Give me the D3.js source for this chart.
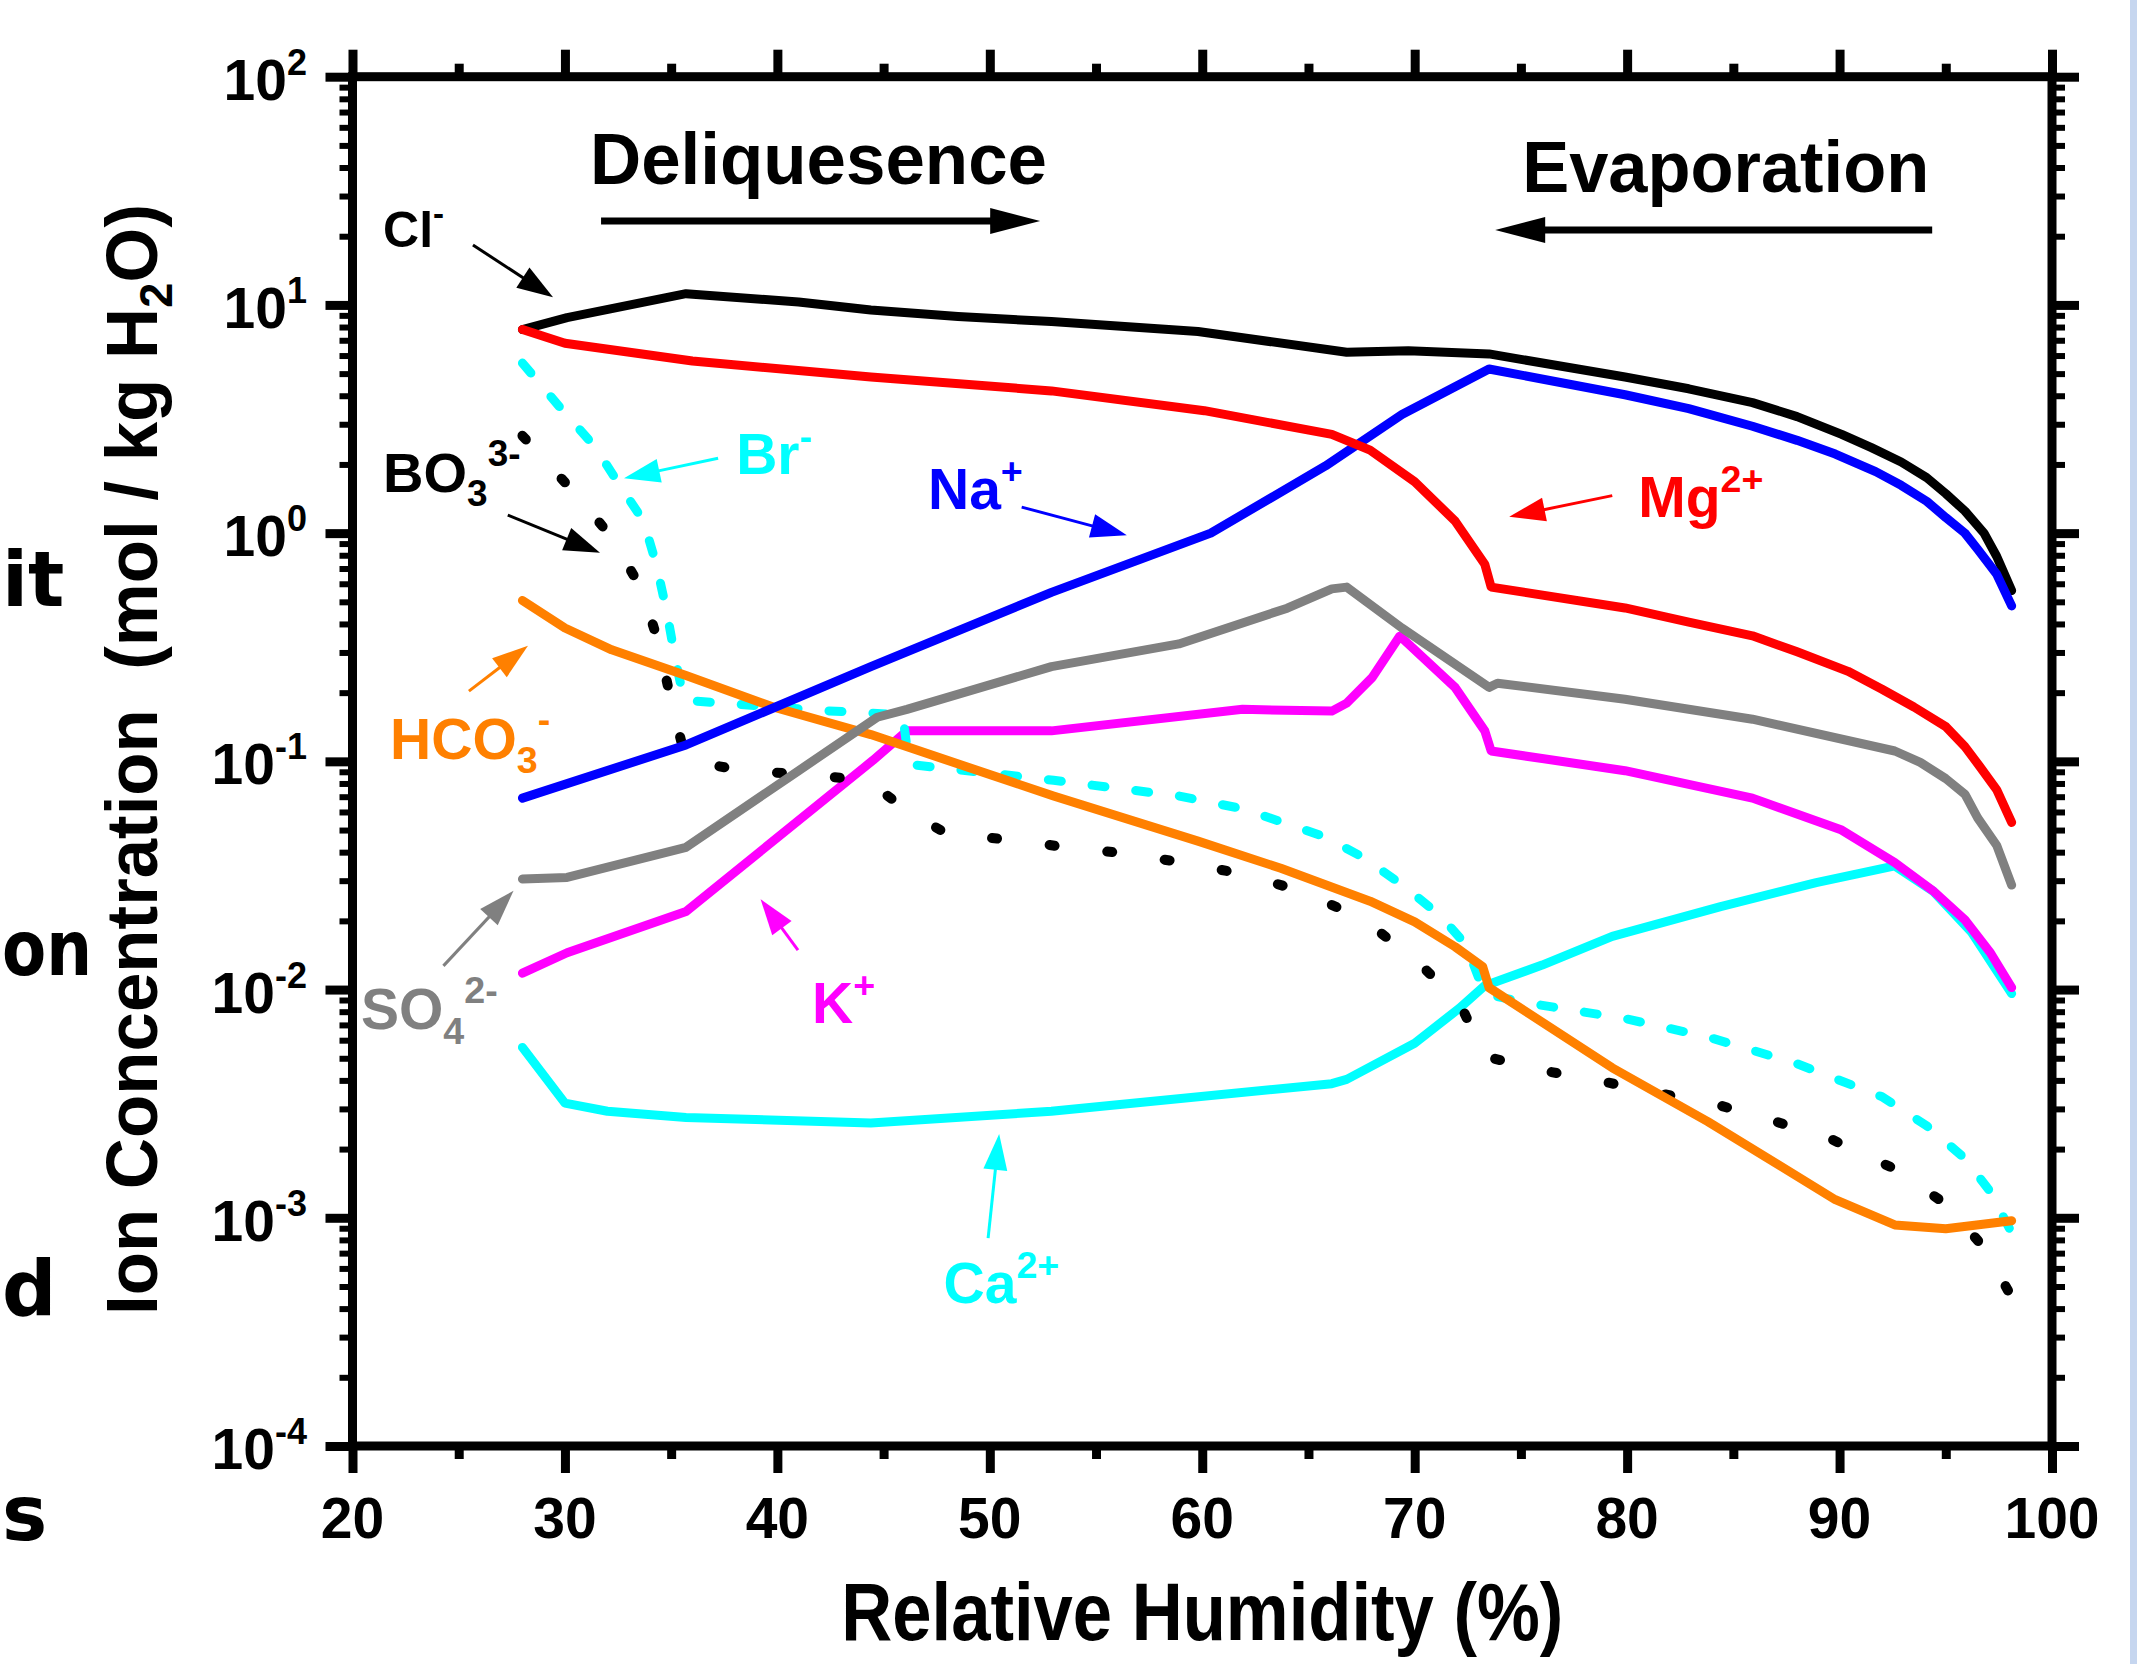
<!DOCTYPE html>
<html>
<head>
<meta charset="utf-8">
<script src="https://cdn.jsdelivr.net/npm/d3@7"></script>
<style>
  html, body { margin: 0; padding: 0; background: #ffffff; }
  svg { display: block; }
</style>
</head>
<body>
<svg id="chart" width="2137" height="1664"></svg>
<script>
// Ion concentration (mol / kg H2O) against relative humidity (%), one [RH, concentration] list per ion
const chloride = [[28.0, 7.8], [30.1, 8.8], [35.7, 11.2], [41.0, 10.3], [44.4, 9.5], [48.5, 8.9], [52.9, 8.45],
  [59.8, 7.65], [66.8, 6.2], [69.7, 6.3], [73.5, 6.1], [79.9, 4.83], [82.9, 4.29], [85.9, 3.73], [88.0, 3.24],
  [90.1, 2.71], [91.5, 2.37], [92.9, 2.05], [94.1, 1.75], [95.0, 1.49], [95.9, 1.25], [96.8, 1.0], [97.4, 0.79],
  [98.1, 0.56]];
const magnesium = [[28.0, 7.8], [30.0, 6.79], [36.0, 5.68], [44.4, 4.83], [52.9, 4.2], [60.1, 3.44], [66.1, 2.71],
  [67.9, 2.31], [70.0, 1.68], [71.9, 1.13], [73.3, 0.73], [73.6, 0.58], [79.9, 0.47], [82.9, 0.407], [85.9, 0.355],
  [88.0, 0.302], [90.4, 0.248], [92.0, 0.207], [93.5, 0.173], [95.0, 0.142], [95.9, 0.116], [96.6, 0.095],
  [97.4, 0.075], [98.1, 0.054]];
const sodium = [[28.0, 0.069], [35.7, 0.118], [44.4, 0.26], [52.9, 0.55], [60.4, 1.0], [65.8, 1.97], [69.4, 3.31],
  [73.5, 5.24], [79.9, 4.04], [82.9, 3.51], [85.9, 2.94], [88.0, 2.55], [89.8, 2.22], [91.7, 1.86], [92.9, 1.62],
  [94.1, 1.38], [95.0, 1.17], [95.9, 1.0], [96.5, 0.85], [97.4, 0.66], [98.1, 0.48]];
const sulfate = [[28.0, 0.0305], [30.1, 0.031], [35.7, 0.042], [41.0, 0.091], [44.7, 0.156], [46.1, 0.169],
  [52.9, 0.26], [58.9, 0.327], [64.0, 0.469], [66.1, 0.57], [66.8, 0.58], [69.4, 0.384], [73.5, 0.211], [73.9, 0.22],
  [79.9, 0.187], [85.9, 0.153], [92.6, 0.111], [93.8, 0.099], [95.0, 0.084], [95.9, 0.0718], [96.5, 0.0565],
  [97.4, 0.0428], [98.1, 0.0287]];
const potassium = [[28.0, 0.0118], [30.1, 0.0145], [35.7, 0.022], [44.5, 0.101], [46.1, 0.136], [52.9, 0.136],
  [61.9, 0.169], [66.1, 0.166], [66.8, 0.18], [68.0, 0.233], [69.3, 0.354], [71.9, 0.211], [73.3, 0.136], [73.6, 0.111],
  [79.9, 0.091], [85.9, 0.069], [90.1, 0.050], [92.6, 0.036], [94.4, 0.0271], [95.9, 0.0202], [97.1, 0.0145], [98.1, 0.0102]];
const calcium = [[28.0, 0.00558], [30.0, 0.00318], [32.0, 0.00293], [35.7, 0.00275], [44.4, 0.0026], [52.9, 0.00293],
  [66.1, 0.00387], [66.8, 0.00404], [70.0, 0.00582], [72.1, 0.00828], [73.3, 0.0104], [76.0, 0.0128], [79.3, 0.0171],
  [84.4, 0.0231], [88.9, 0.0294], [92.6, 0.0348], [94.4, 0.027], [96.2, 0.0179], [98.1, 0.0096]];
const bicarbonate = [[28.0, 0.507], [30.0, 0.384], [32.2, 0.308], [35.7, 0.238], [39.8, 0.173], [44.4, 0.131],
  [53.0, 0.0705], [59.8, 0.0447], [63.7, 0.034], [67.9, 0.0244], [70.0, 0.0198], [71.9, 0.0154], [73.2, 0.0126],
  [73.5, 0.0102], [79.3, 0.00454], [83.8, 0.00264], [89.8, 0.0012], [92.6, 0.00093], [95.0, 0.000895], [98.1, 0.00097]];
const bromide = [[28.0, 5.56], [29.9, 3.44], [31.4, 2.40], [32.6, 1.61], [33.7, 1.13], [34.3, 0.73], [34.8, 0.45],
  [35.2, 0.279], [35.6, 0.187], [36.0, 0.184], [42.1, 0.167], [45.9, 0.16], [46.2, 0.097], [50.5, 0.0877], [53.0, 0.0826],
  [58.9, 0.0705], [61.9, 0.062], [65.8, 0.0466], [67.6, 0.0378], [69.4, 0.0288], [71.2, 0.0211], [72.4, 0.0158],
  [73.3, 0.0096], [75.1, 0.0088], [79.9, 0.00746], [83.8, 0.0062], [88.0, 0.00473], [92.0, 0.00339], [94.1, 0.00253],
  [95.9, 0.00182], [97.1, 0.0013], [98.1, 0.00086]];
const borate = [[28.0, 2.67], [30.4, 1.52], [32.2, 0.96], [33.6, 0.57], [34.4, 0.333], [35.0, 0.183], [35.7, 0.101],
  [38.4, 0.091], [41.3, 0.0877], [44.2, 0.0826], [46.1, 0.061], [48.0, 0.048], [50.9, 0.0454], [53.7, 0.0419],
  [56.5, 0.0394], [59.3, 0.0357], [62.2, 0.0317], [64.9, 0.0265], [67.6, 0.0202], [70.0, 0.0136], [72.1, 0.0088],
  [73.3, 0.0051], [75.9, 0.00444], [78.6, 0.0040], [81.4, 0.00353], [84.3, 0.00312], [87.0, 0.00264], [89.7, 0.00219],
  [92.4, 0.00167], [95.0, 0.00115], [96.8, 0.00074], [98.1, 0.00045]];

// Axis ticks
const xMajorTicks = [20, 30, 40, 50, 60, 70, 80, 90, 100];
const xMinorTicks = [25, 35, 45, 55, 65, 75, 85, 95];
const yExponents = [-4, -3, -2, -1, 0, 1, 2];

// Ion labels: text pieces and where they sit, in data units (RH, concentration)
const ionLabels = [
  { main: "Cl", sub: "", sup: "-", at: [21.44, 17.9], size: 50, color: "#000000" },
  { main: "BO", sub: "3", sup: "3-", at: [21.44, 1.52], size: 56, color: "#000000" },
  { main: "Br", sub: "", sup: "-", at: [38.06, 1.82], size: 57, color: "#00ffff" },
  { main: "Na", sub: "", sup: "+", at: [47.09, 1.275], size: 57, color: "#0000ff" },
  { main: "Mg", sub: "", sup: "2+", at: [80.52, 1.176], size: 57, color: "#ff0000" },
  { main: "HCO", sub: "3", sup: "-", at: [21.77, 0.1028], size: 57, color: "#ff8000" },
  { main: "SO", sub: "4", sup: "2-", at: [20.4, 0.00673], size: 57, color: "#808080" },
  { main: "K", sub: "", sup: "+", at: [41.63, 0.00716], size: 57, color: "#ff00ff" },
  { main: "Ca", sub: "", sup: "2+", at: [47.82, 0.000424], size: 57, color: "#00ffff" }
];
// Pointer arrows from each label to its curve: [from, to] in data units
const ionPointers = [
  { from: [25.67, 18.3], to: [29.44, 10.8], color: "#000000" },
  { from: [27.31, 1.2], to: [31.65, 0.82], color: "#000000" },
  { from: [37.21, 2.13], to: [32.78, 1.74], color: "#00ffff" },
  { from: [51.5, 1.30], to: [56.45, 0.98], color: "#0000ff" },
  { from: [79.3, 1.46], to: [74.45, 1.18], color: "#ff0000" },
  { from: [25.48, 0.203], to: [28.26, 0.321], color: "#ff8000" },
  { from: [24.28, 0.0127], to: [27.58, 0.0271], color: "#808080" },
  { from: [40.97, 0.0149], to: [39.21, 0.0249], color: "#ff00ff" },
  { from: [49.92, 0.000815], to: [50.44, 0.00233], color: "#00ffff" }
];
// Process direction captions
const processes = [
  { text: "Deliquesence", textAt: [31.18, 33.8], width: 457, from: [31.7, 23.3], to: [52.37, 23.3] },
  { text: "Evaporation", textAt: [75.06, 31.2], width: 407, from: [94.36, 21.3], to: [73.79, 21.3] }
];

const svg = d3.select("#chart");
const FONT = "'Liberation Sans', Arial, Helvetica, sans-serif";

const plot = { left: 352.5, right: 2052, top: 76.7, bottom: 1446 };
const x = d3.scaleLinear().domain([20, 100]).range([plot.left, plot.right]);
const y = d3.scaleLog().domain([1e-4, 1e2]).range([plot.bottom, plot.top]);

svg.append("rect").attr("width", 2137).attr("height", 1664).attr("fill", "#ffffff");
// strip of the neighbouring slide panel at the right edge
svg.append("rect").attr("x", 2130).attr("y", 0).attr("width", 7).attr("height", 1664).attr("fill", "#c6d6ef");

// Word endings of the neighbouring slide text along the left edge
const sideWords = [["it", 606, null], ["on", 975, 90], ["d", 1315, null], ["s", 1540, null]];
const side = svg.append("g").selectAll("text").data(sideWords).join("text")
  .attr("x", 2)
  .attr("y", d => d[1])
  .attr("font-family", "'DejaVu Sans', Verdana, sans-serif")
  .attr("font-weight", "bold")
  .attr("font-size", 76)
  .attr("fill", "#000")
  .text(d => d[0]);
side.filter(d => d[2]).attr("textLength", d => d[2]).attr("lengthAdjust", "spacingAndGlyphs");

// Curves
const line = d3.line().x(d => x(d[0])).y(d => y(d[1]));
const series = [
  { data: calcium, color: "#00ffff", dash: null },
  { data: potassium, color: "#ff00ff", dash: null },
  { data: bromide, color: "#00ffff", dash: "13,31" },
  { data: borate, color: "#000000", dash: "5,53" },
  { data: bicarbonate, color: "#ff8000", dash: null },
  { data: sulfate, color: "#808080", dash: null },
  { data: chloride, color: "#000000", dash: null },
  { data: sodium, color: "#0000ff", dash: null },
  { data: magnesium, color: "#ff0000", dash: null }
];
svg.append("g").selectAll("path").data(series).join("path")
  .attr("d", d => line(d.data))
  .attr("fill", "none")
  .attr("stroke", d => d.color)
  .attr("stroke-width", d => d.dash === "5,53" ? 10 : 9)
  .attr("stroke-linecap", "round")
  .attr("stroke-linejoin", "round")
  .attr("stroke-dasharray", d => d.dash);

// Arrow helper: shaft plus filled triangular head
function arrow(g, x1, y1, x2, y2, color, shaft, headLen, headW) {
  const dx = x2 - x1, dy = y2 - y1, len = Math.hypot(dx, dy);
  const ux = dx / len, uy = dy / len;
  const bx = x2 - ux * headLen, by = y2 - uy * headLen;
  g.append("line").attr("x1", x1).attr("y1", y1).attr("x2", bx + ux * 2).attr("y2", by + uy * 2)
    .attr("stroke", color).attr("stroke-width", shaft);
  g.append("path")
    .attr("d", `M${x2},${y2}L${bx - uy * headW / 2},${by + ux * headW / 2}L${bx + uy * headW / 2},${by - ux * headW / 2}Z`)
    .attr("fill", color);
}

const ann = svg.append("g");
ionPointers.forEach(p => arrow(ann, x(p.from[0]), y(p.from[1]), x(p.to[0]), y(p.to[1]), p.color, 3, 36, 24));

ionLabels.forEach(l => {
  const t = ann.append("text")
    .attr("x", x(l.at[0])).attr("y", y(l.at[1]))
    .attr("font-family", FONT).attr("font-weight", "bold")
    .attr("font-size", l.size).attr("fill", l.color);
  t.append("tspan").text(l.main);
  const s = l.size;
  if (l.sub) t.append("tspan").attr("font-size", s * 0.66).attr("dy", s * 0.26).text(l.sub);
  if (l.sup) t.append("tspan").attr("font-size", s * 0.66).attr("dy", l.sub ? -s * 0.72 : -s * 0.44).text(l.sup);
});

processes.forEach(p => {
  ann.append("text")
    .attr("x", x(p.textAt[0])).attr("y", y(p.textAt[1]))
    .attr("font-family", FONT).attr("font-weight", "bold").attr("font-size", 72)
    .attr("textLength", p.width).attr("lengthAdjust", "spacingAndGlyphs")
    .attr("fill", "#000").text(p.text);
  arrow(ann, x(p.from[0]), y(p.from[1]), x(p.to[0]), y(p.to[1]), "#000", 7, 50, 26);
});

// Axes: major ticks 27 px and minor ticks 13 px, all pointing outward
function bare(g, w) {
  g.select(".domain").remove();
  g.selectAll(".tick text").remove();
  g.selectAll(".tick line").attr("stroke", "#000").attr("stroke-width", w);
}
const yMinor = [];
for (let e = -4; e < 2; e++) for (let k = 2; k <= 9; k++) yMinor.push(k * Math.pow(10, e));
const yMajor = yExponents.map(e => Math.pow(10, e));

svg.append("g").attr("transform", `translate(0,${plot.bottom})`)
  .call(d3.axisBottom(x).tickValues(xMajorTicks).tickSize(27).tickSizeOuter(0)).call(bare, 9);
svg.append("g").attr("transform", `translate(0,${plot.bottom})`)
  .call(d3.axisBottom(x).tickValues(xMinorTicks).tickSize(13).tickSizeOuter(0)).call(bare, 9);
svg.append("g").attr("transform", `translate(0,${plot.top})`)
  .call(d3.axisTop(x).tickValues(xMajorTicks).tickSize(27).tickSizeOuter(0)).call(bare, 9);
svg.append("g").attr("transform", `translate(0,${plot.top})`)
  .call(d3.axisTop(x).tickValues(xMinorTicks).tickSize(13).tickSizeOuter(0)).call(bare, 9);
svg.append("g").attr("transform", `translate(${plot.left},0)`)
  .call(d3.axisLeft(y).tickValues(yMajor).tickSize(27).tickSizeOuter(0)).call(bare, 9);
svg.append("g").attr("transform", `translate(${plot.left},0)`)
  .call(d3.axisLeft(y).tickValues(yMinor).tickSize(13).tickSizeOuter(0)).call(bare, 6);
svg.append("g").attr("transform", `translate(${plot.right},0)`)
  .call(d3.axisRight(y).tickValues(yMajor).tickSize(27).tickSizeOuter(0)).call(bare, 9);
svg.append("g").attr("transform", `translate(${plot.right},0)`)
  .call(d3.axisRight(y).tickValues(yMinor).tickSize(13).tickSizeOuter(0)).call(bare, 6);

svg.append("rect")
  .attr("x", plot.left).attr("y", plot.top)
  .attr("width", plot.right - plot.left).attr("height", plot.bottom - plot.top)
  .attr("fill", "none").attr("stroke", "#000").attr("stroke-width", 9);

// Tick labels
svg.append("g").selectAll("text").data(xMajorTicks).join("text")
  .attr("x", d => x(d)).attr("y", 1538)
  .attr("text-anchor", "middle")
  .attr("font-family", FONT).attr("font-weight", "bold").attr("font-size", 57)
  .text(d => d);

const yl = svg.append("g").selectAll("text").data(yExponents).join("text")
  .attr("x", 307).attr("y", d => y(Math.pow(10, d)) + 23)
  .attr("text-anchor", "end")
  .attr("font-family", FONT).attr("font-weight", "bold").attr("font-size", 57);
yl.append("tspan").text("10");
yl.append("tspan").attr("font-size", 36).attr("dy", -25).text(d => d);

// Axis titles
svg.append("text")
  .attr("x", (plot.left + plot.right) / 2).attr("y", 1640)
  .attr("text-anchor", "middle")
  .attr("font-family", FONT).attr("font-weight", "bold").attr("font-size", 82)
  .attr("textLength", 722).attr("lengthAdjust", "spacingAndGlyphs")
  .text("Relative Humidity (%)");

const yt = svg.append("text")
  .attr("transform", "translate(157,759.5) rotate(-90)")
  .attr("text-anchor", "middle")
  .attr("font-family", FONT).attr("font-weight", "bold").attr("font-size", 72)
  .attr("textLength", 1111).attr("lengthAdjust", "spacingAndGlyphs");
yt.append("tspan").text("Ion Concentration\u00a0\u00a0(mol / kg H");
yt.append("tspan").attr("font-size", 46).attr("dy", 15).text("2");
yt.append("tspan").attr("dy", -15).text("O)");
</script>
</body>
</html>
